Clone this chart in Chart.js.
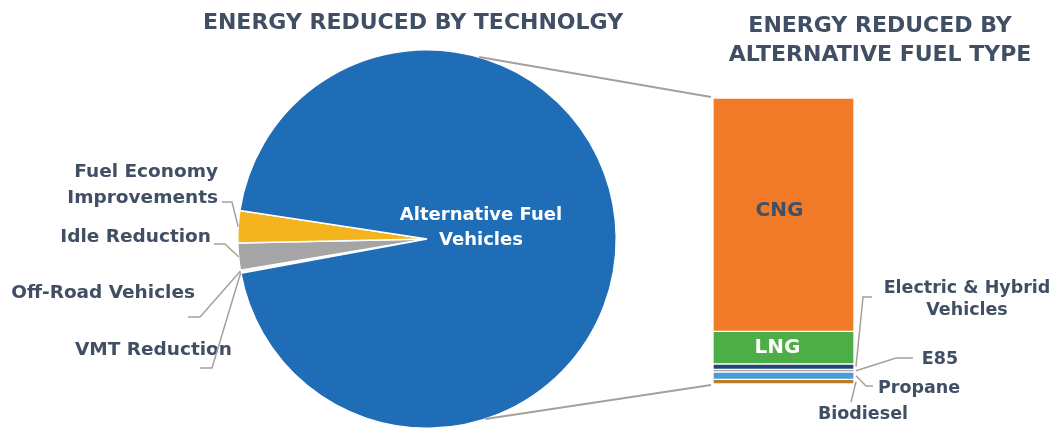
<!DOCTYPE html>
<html>
<head>
<meta charset="utf-8">
<script src="https://cdn.jsdelivr.net/npm/chart.js@4/dist/chart.umd.min.js"></script>
<style>
  body { margin: 0; background: #fff; }
  #wrap { position: relative; width: 1060px; height: 434px; }
  #wrap canvas { position: absolute; left: 0; top: 0; }
</style>
</head>
<body>
<div id="wrap">
  <canvas id="pie" width="1060" height="434"></canvas>
  <canvas id="bar" width="1060" height="434"></canvas>
</div>
<script>
// pie slices, listed clockwise starting just below the left horizontal
const techLabels = ["VMT Reduction", "Off-Road Vehicles", "Idle Reduction", "Fuel Economy Improvements", "Alternative Fuel Vehicles"];
const techValues = [0.1, 0.15, 2.3, 2.75, 94.7];
const techColors = ["#9E480E", "#5B9BD5", "#A5A5A5", "#F3B41E", "#1F6CB7"];

// stacked bar segments, bottom to top
const fuelLabels = ["Biodiesel", "Propane", "E85", "Electric & Hybrid Vehicles", "LNG", "CNG"];
const fuelValues = [1.6, 2.6, 0.9, 1.9, 11.4, 81.6];
const fuelColors = ["#BA7B2B", "#4A9BD8", "#A5A5A5", "#264478", "#4DAE48", "#F07A28"];

const TEXT = "#404F64";
const LINE = "#A89F98";
const FONT = "'DejaVu Sans', sans-serif";

function edgePoint(arc, pad) {
  const a = (arc.startAngle + arc.endAngle) / 2;
  return { x: arc.x + Math.cos(a) * (arc.outerRadius + pad), y: arc.y + Math.sin(a) * (arc.outerRadius + pad) };
}

function poly(ctx, pts) {
  ctx.beginPath();
  ctx.moveTo(pts[0][0], pts[0][1]);
  for (let i = 1; i < pts.length; i++) ctx.lineTo(pts[i][0], pts[i][1]);
  ctx.stroke();
}

// label placement for the pie's small slices (index -> text & elbow)
const pieNotes = {
  0: { lines: ["VMT Reduction"], x: 232, ys: [350], elbow: [[200, 368], [212, 368]] },
  1: { lines: ["Off-Road Vehicles"], x: 195, ys: [293], elbow: [[188, 317], [200, 317]] },
  2: { lines: ["Idle Reduction"], x: 211, ys: [237], elbow: [[214, 244], [225, 244]] },
  3: { lines: ["Fuel Economy", "Improvements"], x: 218, ys: [172, 198], elbow: [[222, 202], [232, 202]] },
};

const pieLabelPlugin = {
  id: "pieLabels",
  afterDraw(chart) {
    const ctx = chart.ctx;
    const arcs = chart.getDatasetMeta(0).data;
    ctx.save();
    ctx.fillStyle = TEXT;
    ctx.font = "bold 22px " + FONT;
    ctx.textAlign = "center";
    ctx.textBaseline = "middle";
    ctx.fillText("ENERGY REDUCED BY TECHNOLGY", 413, 23);

    ctx.font = "bold 18.5px " + FONT;
    ctx.textAlign = "right";
    ctx.strokeStyle = LINE;
    ctx.lineWidth = 1.5;
    Object.keys(pieNotes).forEach((k) => {
      const n = pieNotes[k];
      n.lines.forEach((t, i) => ctx.fillText(t, n.x, n.ys[i]));
      const p = edgePoint(arcs[k], 0);
      poly(ctx, [...n.elbow, [p.x, p.y]]);
    });

    // big slice label
    const big = arcs[4];
    ctx.fillStyle = "#fff";
    ctx.textAlign = "center";
    ctx.font = "bold 18px " + FONT;
    ctx.fillText("Alternative Fuel", big.x + 54, 215);
    ctx.fillText("Vehicles", big.x + 54, 240);
    ctx.restore();
  },
};

const pieChart = new Chart(document.getElementById("pie"), {
  type: "pie",
  data: {
    labels: techLabels,
    datasets: [{
      data: techValues,
      backgroundColor: techColors,
      borderColor: "#fff",
      borderWidth: 1.5,
    }],
  },
  options: {
    responsive: false,
    animation: false,
    rotation: 259.6,
    layout: { padding: { left: 237, right: 443, top: 49, bottom: 5 } },
    plugins: { legend: { display: false }, tooltip: { enabled: false } },
  },
  plugins: [pieLabelPlugin],
});

// label placement for the bar's thin segments
const barNotes = {
  3: { lines: ["Electric & Hybrid", "Vehicles"], x: 967, ys: [288, 310], elbow: [[872, 297], [863, 297]] },
  2: { lines: ["E85"], x: 940, ys: [359], elbow: [[913, 358], [896, 358]] },
  1: { lines: ["Propane"], x: 919, ys: [388], elbow: [[873, 386], [866, 386]] },
  0: { lines: ["Biodiesel"], x: 863, ys: [414], elbow: [[851, 402]] },
};

const barLabelPlugin = {
  id: "barLabels",
  afterDraw(chart) {
    const ctx = chart.ctx;
    const seg = (i) => chart.getDatasetMeta(i).data[0];
    ctx.save();
    ctx.fillStyle = TEXT;
    ctx.textAlign = "center";
    ctx.textBaseline = "middle";
    ctx.font = "bold 22px " + FONT;
    ctx.fillText("ENERGY REDUCED BY", 880, 26);
    ctx.fillText("ALTERNATIVE FUEL TYPE", 880, 55);

    // connectors from the pie's big slice to the bar
    const big = pieChart.getDatasetMeta(0).data[4];
    const top = seg(fuelValues.length - 1);
    const bottom = seg(0);
    const left = top.x - top.width / 2;
    const right = top.x + top.width / 2;
    const a1 = -Math.PI / 2 + 16 * Math.PI / 180;
    const a2 = Math.PI / 2 - 18 * Math.PI / 180;
    ctx.strokeStyle = LINE;
    ctx.lineWidth = 2;
    poly(ctx, [[big.x + Math.cos(a1) * big.outerRadius, big.y + Math.sin(a1) * big.outerRadius], [left - 2, top.y - 1]]);
    poly(ctx, [[big.x + Math.cos(a2) * big.outerRadius, big.y + Math.sin(a2) * big.outerRadius], [left - 2, bottom.base + 1]]);

    // inside labels
    const cng = seg(5), lng = seg(4);
    ctx.font = "bold 20px " + FONT;
    ctx.fillText("CNG", cng.x - 4, 211);
    ctx.fillStyle = "#fff";
    ctx.fillText("LNG", lng.x - 6, (lng.y + lng.base) / 2);

    // outside labels
    ctx.fillStyle = TEXT;
    ctx.font = "bold 17.5px " + FONT;
    ctx.lineWidth = 1.5;
    Object.keys(barNotes).forEach((k) => {
      const n = barNotes[k];
      const s = seg(k);
      n.lines.forEach((t, i) => ctx.fillText(t, n.x, n.ys[i]));
      poly(ctx, [...n.elbow, [right + 2, (s.y + s.base) / 2]]);
    });
    ctx.restore();
  },
};

new Chart(document.getElementById("bar"), {
  type: "bar",
  data: {
    labels: ["Alternative Fuel Vehicles"],
    datasets: fuelLabels.map((name, i) => ({
      label: name,
      data: [fuelValues[i]],
      backgroundColor: fuelColors[i],
      borderColor: "#fff",
      borderWidth: 1,
      borderSkipped: false,
      barPercentage: 1,
      categoryPercentage: 1,
    })),
  },
  options: {
    responsive: false,
    animation: false,
    layout: { padding: { left: 713, right: 206, top: 98, bottom: 50 } },
    scales: {
      x: { stacked: true, display: false },
      y: { stacked: true, display: false, min: 0, max: 100 },
    },
    plugins: { legend: { display: false }, tooltip: { enabled: false } },
  },
  plugins: [barLabelPlugin],
});
</script>
</body>
</html>
